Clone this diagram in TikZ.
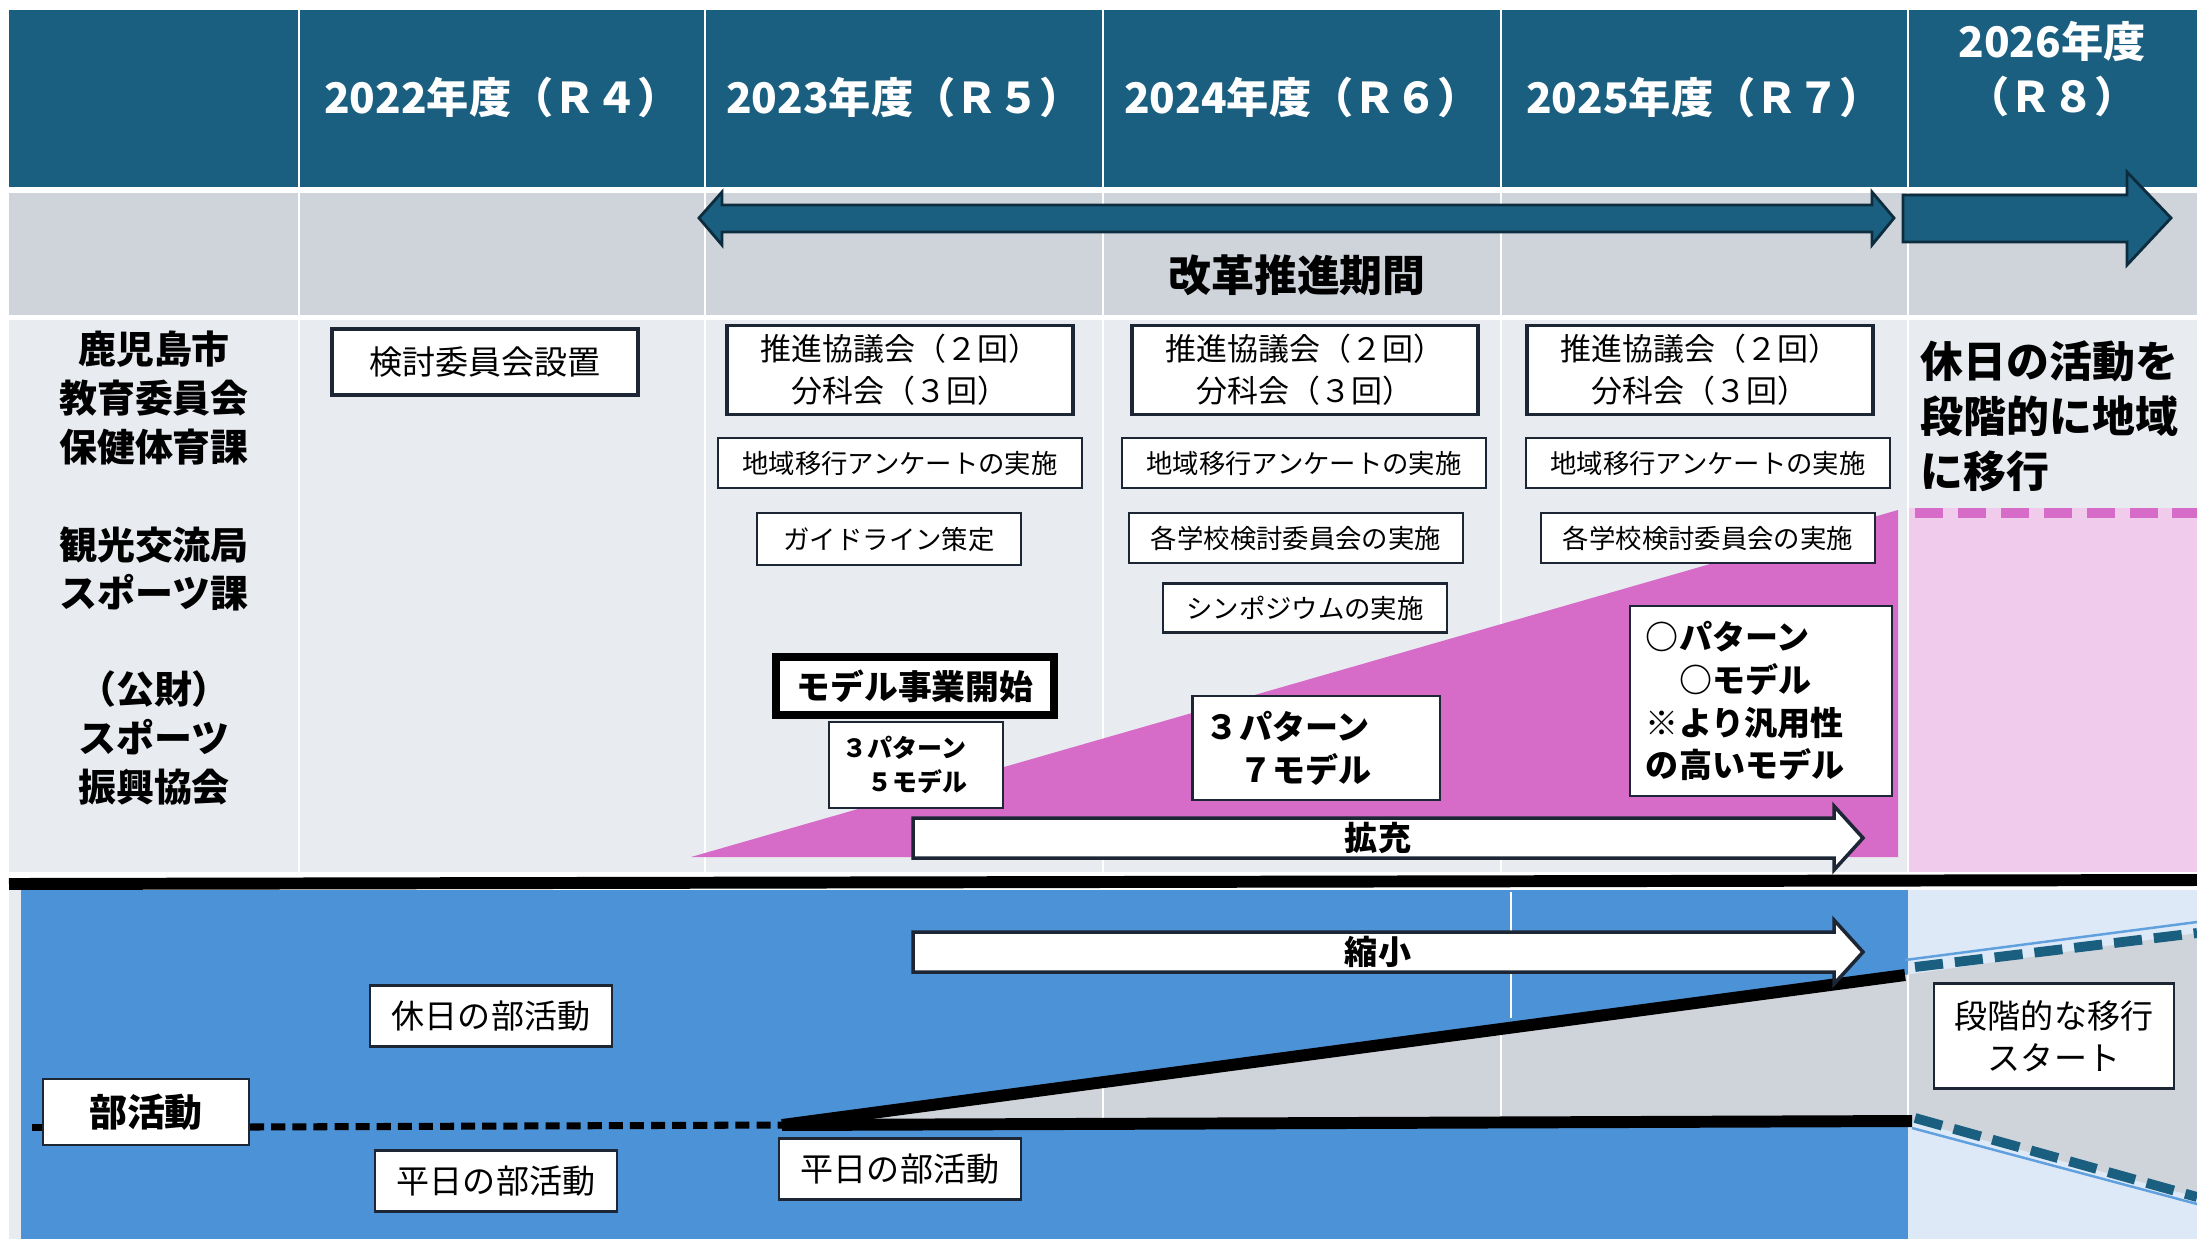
\documentclass[tikz,border=0pt]{standalone}
\usepackage{fontspec}
\setmainfont{Noto Sans CJK JP}
\usepackage{tikz}
\usetikzlibrary{positioning}

\definecolor{hdrblue}{RGB}{27,95,128}
\definecolor{hdrline}{RGB}{13,45,63}
\definecolor{bandgray}{RGB}{207,212,219}
\definecolor{rowgray}{RGB}{232,235,240}
\definecolor{boxline}{RGB}{28,38,52}
\definecolor{modelpink}{RGB}{214,108,200}
\definecolor{shiftpink}{RGB}{241,203,236}
\definecolor{clubblue}{RGB}{76,146,214}
\definecolor{paleblue}{RGB}{221,233,246}
\definecolor{edgeblue}{RGB}{96,160,222}

\begin{document}
\begin{tikzpicture}[x=0.01cm, y=-0.01cm,
    yearlabel/.style={text=white, font=\bfseries\fontsize{12}{15.4}\selectfont, align=center, inner sep=0pt},
    orglabel/.style={font=\bfseries\fontsize{10.8}{13.8}\selectfont, align=center, inner sep=0pt},
    bigbold/.style={font=\bfseries\fontsize{12.2}{15.6}\selectfont, inner sep=0pt},
    thinbox/.style={draw=boxline, fill=white, line width=0.6pt, inner sep=0pt, font=\fontsize{7.5}{9}\selectfont},
    heavybox/.style={draw=boxline, fill=white, line width=1.1pt, inner sep=0pt, align=center, font=\fontsize{9.4}{12}\selectfont},
    meetbox/.style={heavybox, minimum width=3.46cm, minimum height=0.89cm, font=\fontsize{8.8}{12}\selectfont},
    surveybox/.style={thinbox, minimum width=3.64cm, minimum height=0.5cm},
    modelbox/.style={draw=boxline, fill=white, line width=0.6pt, inner sep=0pt, align=left, font=\bfseries\fontsize{9.4}{12.2}\selectfont},
    clubbox/.style={thinbox, minimum width=2.42cm, minimum height=0.61cm, font=\fontsize{9.4}{12}\selectfont, align=center},
    arrowlabel/.style={font=\bfseries\fontsize{9.4}{12}\selectfont, inner sep=0pt},
    blockarrow/.style={draw=boxline, fill=white, line width=1pt},
    periodarrow/.style={draw=hdrline, fill=hdrblue, line width=0.8pt},
    colline/.style={white, line width=0.6pt},
    thickline/.style={line width=3.4pt},
  ]
\useasboundingbox (0,0) rectangle (2197,1239);

% table rows
\fill[hdrblue] (9,10) rectangle (2197,187);
\fill[bandgray] (9,193) rectangle (2197,315);
\fill[rowgray] (9,320) rectangle (2197,872);
\foreach \cx in {299,705,1103,1501,1908}
  \draw[colline] (\cx,10) -- (\cx,872);

% header
\node[yearlabel] (fy22) at (502,97) {2022年度（Ｒ４）};
\node[yearlabel] (fy23) at (904,97) {2023年度（Ｒ５）};
\node[yearlabel] (fy24) at (1302,97) {2024年度（Ｒ６）};
\node[yearlabel] (fy25) at (1704,97) {2025年度（Ｒ７）};
\node[yearlabel] (fy26) at (2052,69) {2026年度\\（Ｒ８）};

% reform period arrows
\draw[periodarrow] (699,218) -- (722,192) -- (722,205) -- (1872,205) -- (1872,192) -- (1894,218)
  -- (1872,245) -- (1872,232) -- (722,232) -- (722,245) -- cycle;
\draw[periodarrow] (1903,195) -- (2127,195) -- (2127,172) -- (2171,218) -- (2127,265) -- (2127,242) -- (1903,242) -- cycle;
\node[bigbold] (period) at (1297,275) {改革推進期間};

% organisations
\node[orglabel] (cityboard) at (154,398) {鹿児島市\\教育委員会\\保健体育課};
\node[orglabel] (tourism) at (154,569) {観光交流局\\スポーツ課};
\node[orglabel] (foundation) at (154,738) {（公財）\\スポーツ\\振興協会};

% community transition
\fill[shiftpink] (1909,508) rectangle (2197,872);
\fill[modelpink] (691,857) -- (1898,857) -- (1898,510) -- cycle;
\draw[modelpink, line width=3.1pt, dash pattern=on 8pt off 4.2pt] (1915,513) -- (2197,513);
\node[bigbold, align=left, anchor=west] (shift) at (1920,416) {休日の活動を\\段階的に地域\\に移行};

% activities per year
\node[heavybox, minimum width=3.05cm, minimum height=0.66cm] (setup) at (485,362) {検討委員会設置};
\node[meetbox] (meet23) at (900,370) {推進協議会（２回）\\分科会（３回）};
\node[meetbox] (meet24) at (1305,370) {推進協議会（２回）\\分科会（３回）};
\node[meetbox] (meet25) at (1700,370) {推進協議会（２回）\\分科会（３回）};
\node[surveybox] (survey23) at (900,463) {地域移行アンケートの実施};
\node[surveybox] (survey24) at (1304,463) {地域移行アンケートの実施};
\node[surveybox] (survey25) at (1708,463) {地域移行アンケートの実施};
\node[thinbox, minimum width=2.64cm, minimum height=0.52cm] (guide) at (889,539) {ガイドライン策定};
\node[thinbox, minimum width=3.34cm, minimum height=0.5cm] (school24) at (1296,538) {各学校検討委員会の実施};
\node[thinbox, minimum width=3.34cm, minimum height=0.5cm] (school25) at (1708,538) {各学校検討委員会の実施};
\node[thinbox, minimum width=2.84cm, minimum height=0.49cm] (sympo) at (1305,608) {シンポジウムの実施};

% model projects
\node[modelbox, text width=1.46cm, minimum width=1.74cm, minimum height=0.86cm, font=\bfseries\fontsize{7.1}{9.6}\selectfont] (model23) at (916,765) {３パターン\\　５モデル};
\node[draw=black, fill=white, line width=2.1pt, inner sep=0pt, minimum width=2.78cm, minimum height=0.58cm, font=\bfseries\fontsize{9.6}{12}\selectfont] (modelstart) at (915,686) {モデル事業開始};
\node[modelbox, text width=2.2cm, minimum width=2.47cm, minimum height=1.04cm] (model24) at (1316,748) {３パターン\\　７モデル};
\node[modelbox, text width=2.3cm, minimum width=2.62cm, minimum height=1.9cm] (model25) at (1761,701) {○パターン\\　○モデル\\※より汎用性\\の高いモデル};

% club activities
\fill[rowgray] (9,890) rectangle (21,1239);
\fill[clubblue] (21,890) rectangle (1908,1239);
\fill[paleblue] (1908,890) rectangle (2197,1239);
\draw[colline] (1511,892) -- (1511,1018);

\coordinate (split) at (782,1125);
\coordinate (riseend) at (1905,975);
\coordinate (flatend) at (1912,1121);
\coordinate (risefar) at (2197,933);
\coordinate (flatfar) at (2197,1197);
\coordinate (stub) at (32,1127);

\fill[bandgray] (split) -- (riseend) -- (risefar) -- (flatfar) -- (flatend) -- cycle;
\begin{scope}
  \clip (split) -- (riseend) -- (risefar) -- (flatfar) -- (flatend) -- cycle;
  \foreach \cx in {1103,1501,1908}
    \draw[colline] (\cx,900) -- (\cx,1200);
\end{scope}
\draw[edgeblue, line width=0.7pt] (1905,960) -- (2197,922);
\draw[edgeblue, line width=0.7pt] (1912,1128) -- (2197,1204);
\draw[hdrblue, line width=2.8pt, dash pattern=on 8pt off 3.4pt] (1915,967) -- (risefar);
\draw[hdrblue, line width=2.8pt, dash pattern=on 8pt off 3.4pt] (1915,1118) -- (flatfar);

\draw[thickline] (9,884) -- (2197,880);
\draw[thickline] (split) -- (riseend);
\draw[thickline] (split) -- (flatend);

% expand / shrink arrows
\foreach \yc in {838,952}
  \draw[blockarrow] (913,\yc-20) -- (1834,\yc-20) -- (1834,\yc-32) -- (1863,\yc) -- (1834,\yc+32)
    -- (1834,\yc+20) -- (913,\yc+20) -- cycle;
\node[arrowlabel] (expand) at (1378,838) {拡充};
\node[arrowlabel] (shrink) at (1378,952) {縮小};

\node[thinbox, minimum width=2.06cm, minimum height=0.66cm, font=\bfseries\fontsize{10.8}{13}\selectfont] (club) at (146,1112) {部活動};
\draw[line width=2pt, dash pattern=on 4pt off 2pt] (stub) -- (club.west |- stub);
\draw[line width=2pt, dash pattern=on 4pt off 2pt] (club.east |- stub) -- (split);
\node[clubbox] (holiday) at (491,1016) {休日の部活動};
\node[clubbox] (weekday) at (496,1181) {平日の部活動};
\node[clubbox] (weekdaylater) at (900,1169) {平日の部活動};
\node[clubbox, minimum width=2.4cm, minimum height=1.05cm] (stepstart) at (2054,1036) {段階的な移行\\スタート};
\end{tikzpicture}
\end{document}
